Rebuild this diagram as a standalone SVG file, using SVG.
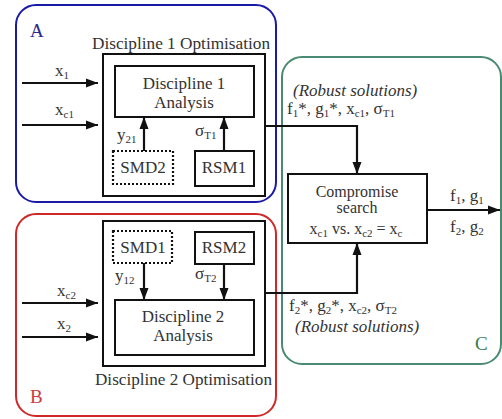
<svg xmlns="http://www.w3.org/2000/svg" width="502" height="419" viewBox="0 0 502 419">
<style>
text{fill:#333;font-size:17px}
.box{fill:none;stroke:#111;stroke-width:2}
.dot{fill:none;stroke:#111;stroke-width:2.2;stroke-dasharray:2 2}
.ln{fill:none;stroke:#111;stroke-width:2.2}
.it{font-style:italic}
.sub{font-size:11px}
.c{text-anchor:middle}
</style>
<defs>
<marker id="ah" markerUnits="userSpaceOnUse" markerWidth="12" markerHeight="12" viewBox="0 0 12 12" refX="12" refY="6" orient="auto">
<path d="M0,1.5 L12,6 L0,10.5 Z" fill="#111"/>
</marker>
</defs>
<g font-family="Liberation Serif">
<g id="regionA">
<rect x="16" y="5" width="260" height="197" rx="20" fill="none" stroke="#1a1aa8" stroke-width="2"/>
<text x="30" y="37" style="font-size:19px;fill:#2a2a90">A</text>
</g>
<g id="regionB">
<rect x="16" y="214" width="260" height="202" rx="20" fill="none" stroke="#d02828" stroke-width="2"/>
<text x="30" y="403" style="font-size:19px;fill:#c84040">B</text>
</g>
<g id="regionC">
<rect x="282" y="57" width="219" height="307" rx="20" fill="none" stroke="#4a8a72" stroke-width="2"/>
<text x="475" y="350" style="font-size:19px;fill:#3a7a50">C</text>
</g>
<g id="opt1">
<rect class="box" x="103" y="54" width="162" height="142"/>
<text x="92" y="49" textLength="178" lengthAdjust="spacingAndGlyphs">Discipline 1 Optimisation</text>
</g>
<g id="analysis1">
<rect class="box" x="115" y="66" width="139" height="51"/>
<text class="c" x="184" y="89">Discipline 1</text>
<text class="c" x="184" y="108">Analysis</text>
</g>
<g id="smd2">
<rect class="dot" x="113" y="151" width="60" height="33"/>
<text class="c" x="143" y="173">SMD2</text>
</g>
<g id="rsm1">
<rect class="box" x="195" y="151" width="59" height="35"/>
<text class="c" x="224" y="173">RSM1</text>
</g>
<g id="opt2">
<rect class="box" x="103" y="221" width="162" height="145"/>
<text x="95" y="385" textLength="177" lengthAdjust="spacingAndGlyphs">Discipline 2 Optimisation</text>
</g>
<g id="smd1">
<rect class="dot" x="113" y="231" width="59" height="32"/>
<text class="c" x="143" y="253">SMD1</text>
</g>
<g id="rsm2">
<rect class="box" x="195" y="232" width="59" height="32"/>
<text class="c" x="224" y="253">RSM2</text>
</g>
<g id="analysis2">
<rect class="box" x="115" y="300" width="139" height="55"/>
<text class="c" x="183" y="322">Discipline 2</text>
<text class="c" x="183" y="341">Analysis</text>
</g>
<g id="compromise">
<rect class="box" x="288" y="174" width="139" height="69"/>
<text class="c" x="357" y="197" style="font-size:16px">Compromise</text>
<text class="c" x="357" y="213" style="font-size:16px">search</text>
<text class="c" x="356" y="234" style="font-size:16px">x<tspan class="sub" dy="3">c1</tspan><tspan dy="-3"> vs. x</tspan><tspan class="sub" dy="3">c2</tspan><tspan dy="-3"> = x</tspan><tspan class="sub" dy="3">c</tspan></text>
</g>
<g id="connectors">
<line class="ln" x1="22" y1="83" x2="98" y2="83" marker-end="url(#ah)"/>
<line class="ln" x1="22" y1="125" x2="98" y2="125" marker-end="url(#ah)"/>
<line class="ln" x1="144" y1="151" x2="144" y2="117" marker-end="url(#ah)"/>
<line class="ln" x1="224" y1="151" x2="224" y2="117" marker-end="url(#ah)"/>
<line class="ln" x1="144" y1="263" x2="144" y2="300" marker-end="url(#ah)"/>
<line class="ln" x1="224" y1="264" x2="224" y2="300" marker-end="url(#ah)"/>
<line class="ln" x1="22" y1="303" x2="98" y2="303" marker-end="url(#ah)"/>
<line class="ln" x1="22" y1="337" x2="98" y2="337" marker-end="url(#ah)"/>
<polyline class="ln" points="265,126 357,126 357,174" marker-end="url(#ah)"/>
<polyline class="ln" points="265,293 357,293 357,243" marker-end="url(#ah)"/>
<line class="ln" x1="427" y1="210" x2="500" y2="210" marker-end="url(#ah)"/>
</g>
<g id="labels">
<text x="55" y="76">x<tspan class="sub" dy="3">1</tspan></text>
<text x="55" y="115">x<tspan class="sub" dy="3">c1</tspan></text>
<text x="117" y="140">y<tspan class="sub" dy="3">21</tspan></text>
<text x="195" y="136">σ<tspan class="sub" dy="3">T1</tspan></text>
<text x="115" y="281">y<tspan class="sub" dy="3">12</tspan></text>
<text x="195" y="279">σ<tspan class="sub" dy="3">T2</tspan></text>
<text x="57" y="296">x<tspan class="sub" dy="3">c2</tspan></text>
<text x="57" y="329">x<tspan class="sub" dy="3">2</tspan></text>
<text class="it" x="293" y="96">(Robust solutions)</text>
<text x="287" y="114">f<tspan class="sub" dy="3">1</tspan><tspan dy="-3">*, g</tspan><tspan class="sub" dy="3">1</tspan><tspan dy="-3">*, x</tspan><tspan class="sub" dy="3">c1</tspan><tspan dy="-3">, σ</tspan><tspan class="sub" dy="3">T1</tspan></text>
<text x="289" y="311">f<tspan class="sub" dy="3">2</tspan><tspan dy="-3">*, g</tspan><tspan class="sub" dy="3">2</tspan><tspan dy="-3">*, x</tspan><tspan class="sub" dy="3">c2</tspan><tspan dy="-3">, σ</tspan><tspan class="sub" dy="3">T2</tspan></text>
<text class="it" x="295" y="332">(Robust solutions)</text>
<text x="450" y="201">f<tspan class="sub" dy="3">1</tspan><tspan dy="-3">, g</tspan><tspan class="sub" dy="3">1</tspan></text>
<text x="450" y="232">f<tspan class="sub" dy="3">2</tspan><tspan dy="-3">, g</tspan><tspan class="sub" dy="3">2</tspan></text>
</g>
</g>
</svg>
